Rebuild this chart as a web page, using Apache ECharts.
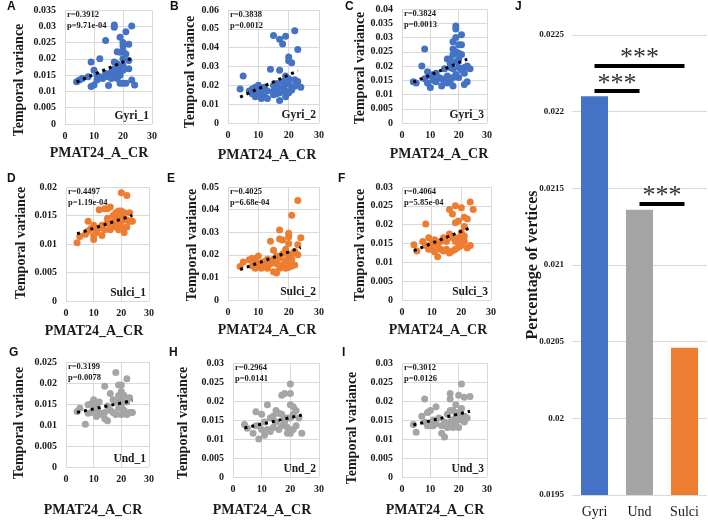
<!DOCTYPE html>
<html><head><meta charset="utf-8">
<script src="https://cdn.jsdelivr.net/npm/echarts@6/dist/echarts.min.js"></script>
<style>html,body{margin:0;padding:0;background:#fff}#c{width:708px;height:523px}</style>
</head><body><div id="c"></div>
<script>
// ---------- DATA ----------
const gyri1 = [[4,0.013],[5,0.0135],[6,0.014],[8,0.0145],[9,0.019],[9,0.0115],[10,0.012],[10,0.0165],[11,0.0135],[11,0.015],[12,0.020],[12,0.0145],[13,0.014],[14,0.0256],[14,0.0155],[15,0.0118],[15,0.0145],[16,0.014],[16,0.016],[17,0.0304],[17,0.0297],[17,0.0155],[17,0.017],[17,0.019],[18,0.0222],[18,0.0185],[18,0.0175],[18,0.016],[18,0.014],[19,0.0266],[19,0.022],[19,0.0175],[19,0.015],[19,0.0125],[20,0.025],[20,0.024],[20,0.0225],[20,0.020],[20,0.018],[20,0.0165],[20,0.0125],[21,0.0283],[21,0.0215],[21,0.0125],[22,0.0245],[22,0.0195],[22,0.017],[23,0.0301],[23,0.0135],[24,0.012]];
const gyri2 = [[4,0.018],[5,0.025],[7,0.017],[8,0.0155],[8,0.018],[9,0.019],[9,0.014],[9,0.016],[10,0.02],[10,0.017],[10,0.015],[11,0.013],[11,0.018],[11,0.016],[12,0.014],[12,0.019],[13,0.013],[13,0.017],[14,0.0285],[15,0.0465],[15,0.017],[15,0.015],[15,0.02],[16,0.0155],[16,0.019],[16,0.021],[17,0.0445],[17,0.028],[17,0.012],[17,0.018],[17,0.016],[18,0.042],[18,0.022],[18,0.019],[18,0.017],[19,0.046],[19,0.0205],[19,0.025],[19,0.014],[19,0.017],[20,0.035],[20,0.033],[20,0.0235],[20,0.021],[20,0.016],[21,0.032],[21,0.019],[21,0.0175],[22,0.049],[22,0.023],[22,0.0195],[23,0.039],[23,0.022],[24,0.019]];
const gyri3 = [[4,0.0145],[5,0.014],[7,0.02],[8,0.026],[8,0.0155],[9,0.018],[9,0.014],[10,0.0125],[10,0.0165],[11,0.015],[11,0.017],[12,0.0145],[12,0.0175],[13,0.016],[14,0.013],[14,0.0155],[15,0.019],[15,0.0145],[16,0.0225],[16,0.0165],[16,0.014],[17,0.0225],[17,0.021],[17,0.0195],[17,0.0145],[18,0.0285],[18,0.026],[18,0.024],[18,0.019],[18,0.016],[18,0.013],[19,0.034],[19,0.033],[19,0.03],[19,0.025],[19,0.0215],[19,0.017],[20,0.0275],[20,0.0245],[20,0.0225],[20,0.0195],[20,0.016],[21,0.031],[21,0.0275],[21,0.024],[21,0.0185],[22,0.0135],[22,0.0175],[22,0.0195],[23,0.0145],[23,0.02],[24,0.019]];
const sulci1 = [[4,0.0102],[5,0.0113],[7,0.0117],[8,0.014],[8,0.0123],[9,0.0127],[10,0.0133],[10,0.0115],[10,0.0108],[11,0.0125],[11,0.012],[12,0.016],[12,0.0128],[13,0.0133],[13,0.0115],[14,0.0162],[14,0.0125],[15,0.0138],[15,0.0162],[15,0.0145],[16,0.0165],[16,0.0125],[16,0.0132],[17,0.015],[17,0.0138],[18,0.0155],[18,0.013],[18,0.0145],[19,0.0158],[19,0.0135],[19,0.0125],[20,0.019],[20,0.0158],[20,0.015],[20,0.014],[20,0.013],[21,0.0155],[21,0.0145],[21,0.0128],[21,0.012],[22,0.0185],[22,0.0142],[22,0.013],[23,0.0155],[23,0.014],[24,0.014]];
const sulci2 = [[4,0.0148],[5,0.0168],[7,0.0178],[8,0.0185],[8,0.015],[9,0.0175],[9,0.014],[10,0.0195],[10,0.015],[11,0.0165],[11,0.014],[12,0.017],[12,0.015],[13,0.018],[13,0.014],[14,0.026],[14,0.0175],[14,0.016],[15,0.022],[15,0.018],[15,0.0125],[16,0.0195],[16,0.016],[16,0.012],[17,0.031],[17,0.027],[17,0.0185],[17,0.014],[18,0.0265],[18,0.0205],[18,0.0155],[19,0.0225],[19,0.0175],[19,0.014],[20,0.0295],[20,0.028],[20,0.025],[20,0.02],[20,0.017],[20,0.0145],[21,0.0375],[21,0.0205],[21,0.018],[21,0.015],[22,0.0215],[22,0.0155],[23,0.044],[23,0.0245],[23,0.02],[24,0.0275]];
const sulci3 = [[4,0.0147],[5,0.013],[7,0.0155],[8,0.0202],[8,0.0145],[9,0.0165],[9,0.0135],[10,0.015],[10,0.0135],[11,0.016],[11,0.0128],[12,0.0115],[12,0.0145],[13,0.0155],[13,0.0135],[14,0.013],[14,0.0165],[15,0.0135],[15,0.0155],[16,0.024],[16,0.0175],[16,0.0125],[17,0.0228],[17,0.0165],[17,0.013],[18,0.025],[18,0.0205],[18,0.0155],[18,0.0135],[19,0.021],[19,0.0165],[19,0.014],[20,0.0245],[20,0.018],[20,0.016],[20,0.0145],[21,0.022],[21,0.0195],[21,0.017],[21,0.0155],[22,0.0215],[22,0.0138],[23,0.026],[23,0.0145],[24,0.024]];
const und1 = [[4,0.0132],[5,0.014],[7,0.0102],[8,0.0148],[8,0.0128],[9,0.015],[9,0.013],[10,0.016],[10,0.0135],[11,0.0145],[11,0.012],[12,0.0155],[12,0.013],[13,0.0125],[14,0.0192],[14,0.0115],[14,0.013],[15,0.0145],[15,0.011],[16,0.0175],[16,0.0135],[17,0.016],[17,0.013],[18,0.0225],[18,0.0155],[18,0.0125],[19,0.0195],[19,0.017],[19,0.014],[20,0.0195],[20,0.018],[20,0.016],[20,0.0145],[20,0.0125],[21,0.017],[21,0.0135],[22,0.021],[22,0.0155],[22,0.0125],[23,0.0165],[23,0.013],[24,0.013]];
const und2 = [[4,0.0138],[5,0.0128],[7,0.0115],[8,0.0172],[8,0.0135],[9,0.01],[9,0.0135],[10,0.0165],[10,0.0125],[11,0.0145],[11,0.011],[12,0.019],[12,0.0125],[13,0.0155],[13,0.012],[14,0.016],[14,0.013],[15,0.0175],[15,0.0145],[16,0.0168],[16,0.0125],[17,0.0215],[17,0.0165],[17,0.0135],[18,0.022],[18,0.0155],[18,0.0145],[19,0.0155],[19,0.0115],[19,0.013],[20,0.0245],[20,0.022],[20,0.019],[20,0.0155],[20,0.0115],[21,0.0185],[21,0.0165],[21,0.0125],[22,0.0175],[22,0.0135],[23,0.0155],[24,0.0115]];
const und3 = [[4,0.0138],[5,0.0118],[7,0.016],[8,0.0205],[8,0.0145],[9,0.017],[9,0.0135],[10,0.0175],[10,0.0135],[11,0.015],[11,0.0135],[12,0.0185],[12,0.014],[13,0.0155],[14,0.0115],[14,0.0135],[15,0.0105],[15,0.0145],[16,0.0165],[16,0.013],[17,0.022],[17,0.0205],[17,0.0175],[17,0.0145],[18,0.0175],[18,0.015],[18,0.013],[19,0.019],[19,0.016],[19,0.014],[20,0.0215],[20,0.017],[20,0.015],[20,0.013],[21,0.0245],[21,0.018],[21,0.0155],[22,0.021],[22,0.016],[22,0.0145],[23,0.0155],[24,0.0212]];

const trendGyri1 = [[4,0.0129],[23,0.0202]];
const trendGyri2 = [[4,0.0138],[23,0.0277]];
const trendGyri3 = [[4,0.0143],[23,0.0224]];
const trendSulci1 = [[4,0.0118],[24,0.0150]];
const trendSulci2 = [[4,0.0135],[24,0.0232]];
const trendSulci3 = [[4,0.0131],[23,0.0192]];
const trendUnd1 = [[4,0.0130],[24,0.0158]];
const trendUnd2 = [[4,0.0129],[24,0.0163]];
const trendUnd3 = [[4,0.0137],[24,0.0173]];

const panelNames = ['Gyri_1','Gyri_2','Gyri_3','Sulci_1','Sulci_2','Sulci_3','Und_1','Und_2','Und_3'];
const panelLetters = ['A','B','C','D','E','F','G','H','I'];
const rValues = ['r=0.3912','r=0.3838','r=0.3824','r=0.4497','r=0.4025','r=0.4064','r=0.3199','r=0.2964','r=0.3012'];
const pValues = ['p=9.71e-04','p=0.0012','p=0.0013','p=1.19e-04','p=6.68e-04','p=5.85e-04','p=0.0078','p=0.0141','p=0.0126'];
const yMaxes = [0.035,0.06,0.04,0.02,0.05,0.03,0.025,0.03,0.03];
const yIntervals = [0.005,0.01,0.005,0.005,0.01,0.005,0.005,0.005,0.005];
const xTicks = [0,10,20,30];

const barCategories = ['Gyri','Und','Sulci'];
const barValues = [0.0221,0.02136,0.02046];
const barTicks = [0.0195,0.02,0.0205,0.021,0.0215,0.022,0.0225];
const sigPairs = [['Gyri','Sulci',0.02230],['Gyri','Und',0.022135],['Und','Sulci',0.02140]];
const sigLabel = '***';

// ---------- LAYOUT / STYLE ----------
const scatterData = [gyri1,gyri2,gyri3,sulci1,sulci2,sulci3,und1,und2,und3];
const trendData = [trendGyri1,trendGyri2,trendGyri3,trendSulci1,trendSulci2,trendSulci3,trendUnd1,trendUnd2,trendUnd3];
const BLUE='#4472C4', ORANGE='#ED7D31', GRAY='#A5A5A5';
const colors = [BLUE,BLUE,BLUE,ORANGE,ORANGE,ORANGE,GRAY,GRAY,GRAY];
const grids = [
  {left:65,top:10,width:87,height:114},
  {left:228,top:10,width:91,height:113},
  {left:402,top:9,width:85,height:114},
  {left:66,top:187,width:83,height:114},
  {left:228,top:187,width:91,height:113},
  {left:402,top:187,width:89,height:113},
  {left:66,top:362,width:83,height:105},
  {left:233,top:363,width:86,height:114},
  {left:402,top:363,width:85,height:114}
];
const letterPos = [[7,1],[170,1],[345,1],[7,173],[167,173],[338,173],[9,347],[169,347],[342,347]];
const yNamePos = [[19,80],[190,72],[360,68],[21,243],[192,245],[360,245],[19,423],[183,423],[352,428]];
const xNamePos = [[99,153],[267,155],[439,154],[94,331],[267,330],[438,330],[93,510],[262,510],[435,510]];
const SERIF = 'Liberation Serif';
const TXT = '#1a1a1a';
const fmt = v => String(parseFloat(v.toFixed(4)));

const option = {
  animation:false,
  backgroundColor:'#fff',
  grid:[], xAxis:[], yAxis:[], series:[], graphic:[]
};

for (let i=0;i<9;i++){
  option.grid.push(grids[i]);
  option.xAxis.push({
    type:'value', gridIndex:i, min:xTicks[0], max:xTicks[xTicks.length-1], interval:10,
    axisLine:{show:false}, axisTick:{show:false},
    splitLine:{show:true,lineStyle:{color:'#d9d9d9',width:1}},
    axisLabel:{fontFamily:SERIF,fontWeight:'bold',fontSize:10,color:TXT,margin:7}
  });
  option.yAxis.push({
    type:'value', gridIndex:i, min:0, max:yMaxes[i], interval:yIntervals[i],
    axisLine:{show:false}, axisTick:{show:false},
    splitLine:{show:true,lineStyle:{color:'#d9d9d9',width:1}},
    axisLabel:{fontFamily:SERIF,fontWeight:'bold',fontSize:10,color:TXT,margin:9,formatter:fmt}
  });
  option.series.push({
    type:'scatter', xAxisIndex:i, yAxisIndex:i, data:scatterData[i],
    symbol:'circle', symbolSize:7, itemStyle:{color:colors[i],opacity:1}, z:2
  });
  option.series.push({
    type:'line', xAxisIndex:i, yAxisIndex:i, data:trendData[i], symbol:'none',
    lineStyle:{color:'#000',width:3,type:[3,4]}, z:3
  });
  const g = grids[i];
  option.graphic.push(
    {type:'text',left:letterPos[i][0],top:letterPos[i][1],style:{text:panelLetters[i],font:'bold 12px "Liberation Sans"',fill:'#111'}},
    {type:'text',x:g.left+2,y:g.top+5,style:{text:rValues[i],font:'bold 8.5px "Liberation Serif"',fill:TXT,textVerticalAlign:'middle'},z:10},
    {type:'text',x:g.left+2,y:g.top+16,style:{text:pValues[i],font:'bold 8.5px "Liberation Serif"',fill:TXT,textVerticalAlign:'middle'},z:10},
    {type:'text',x:g.left+g.width-3,y:g.top+g.height-8,style:{text:panelNames[i],font:'bold 11.5px "Liberation Serif"',fill:TXT,textAlign:'right',textVerticalAlign:'middle'},z:10},
    {type:'text',x:yNamePos[i][0],y:yNamePos[i][1],rotation:Math.PI/2,style:{text:'Temporal variance',font:'bold 14px "Liberation Serif"',fill:TXT,textAlign:'center',textVerticalAlign:'middle'}},
    {type:'text',x:xNamePos[i][0],y:xNamePos[i][1],style:{text:'PMAT24_A_CR',font:'bold 14px "Liberation Serif"',fill:TXT,textAlign:'center',textVerticalAlign:'middle'}}
  );
}

// Bar chart J
option.grid.push({left:572,top:35,width:135,height:460});
option.xAxis.push({
  type:'category', gridIndex:9, data:barCategories,
  axisLine:{show:false}, axisTick:{show:false},
  axisLabel:{fontFamily:SERIF,fontSize:14,color:TXT,margin:10}
});
option.yAxis.push({
  type:'value', gridIndex:9, min:barTicks[0], max:barTicks[barTicks.length-1], interval:0.0005,
  axisLine:{show:false}, axisTick:{show:false},
  splitLine:{show:true,lineStyle:{color:'#d9d9d9',width:1}},
  axisLabel:{fontFamily:SERIF,fontWeight:'bold',fontSize:9,color:TXT,margin:8,formatter:fmt}
});
option.series.push({
  type:'bar', xAxisIndex:9, yAxisIndex:9, barWidth:'60%',
  data:barValues.map((v,k)=>({value:v,itemStyle:{color:[BLUE,GRAY,ORANGE][k]}})),
  markLine:{
    silent:true, symbol:'none', animation:false,
    lineStyle:{color:'#000',width:4,type:'solid'},
    label:{show:true,position:'insideMiddleTop',formatter:sigLabel,fontFamily:SERIF,fontSize:26,color:'#333',distance:-6},
    data: sigPairs.map(p=>[{coord:[p[0],p[2]]},{coord:[p[1],p[2]]}])
  }
});
option.graphic.push(
  {type:'text',left:515,top:1,style:{text:'J',font:'bold 12px "Liberation Sans"',fill:'#111'}},
  {type:'text',x:533,y:265,rotation:Math.PI/2,style:{text:'Percentage of vertices',font:'bold 16px "Liberation Serif"',fill:TXT,textAlign:'center',textVerticalAlign:'middle'}}
);

const chart = echarts.init(document.getElementById('c'),null,{renderer:'canvas'});
chart.setOption(option);
</script></body></html>
